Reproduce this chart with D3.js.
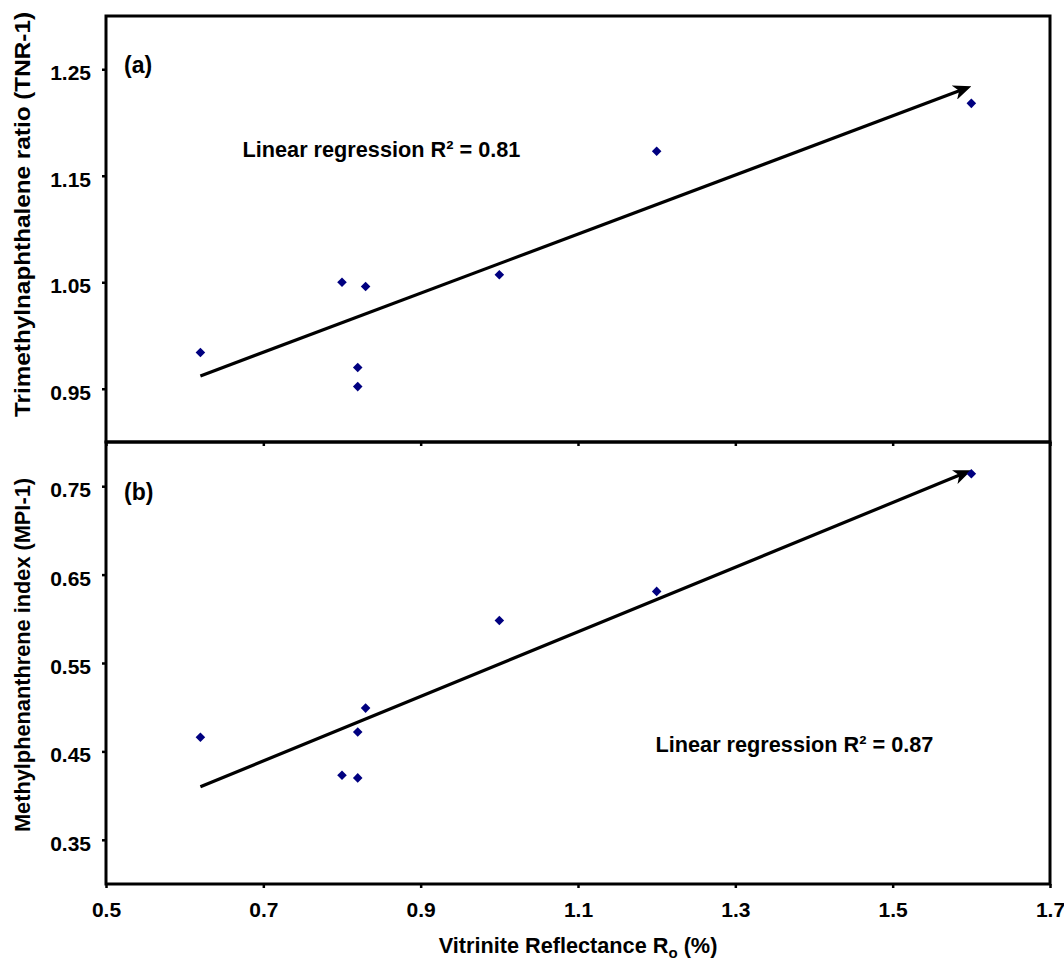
<!DOCTYPE html>
<html><head><meta charset="utf-8">
<script src="https://cdn.jsdelivr.net/npm/d3@7"></script>
<style>
body{margin:0;background:#fff}
svg text{font-family:"Liberation Sans",Arial,sans-serif;font-weight:bold;fill:#000}
</style>
</head><body>
<svg id="chart" width="1064" height="962"></svg>
<script>
// ---- data ----
const vitriniteRo = [0.62, 0.80, 0.83, 0.82, 0.82, 1.00, 1.20, 1.60];
const tnr1        = [0.984, 1.050, 1.046, 0.970, 0.952, 1.057, 1.173, 1.218];
const mpi1        = [0.466, 0.423, 0.499, 0.472, 0.420, 0.598, 0.631, 0.764];
const tnrTrendX = [0.62, 1.60];
const tnrTrendY = [0.962, 1.234];
const mpiTrendX = [0.62, 1.60];
const mpiTrendY = [0.410, 0.768];
const xTicks   = [0.5, 0.7, 0.9, 1.1, 1.3, 1.5, 1.7];
const tnrTicks = [0.95, 1.05, 1.15, 1.25];
const mpiTicks = [0.35, 0.45, 0.55, 0.65, 0.75];
const panelLabels = ["(a)", "(b)"];
const regressionLabels = ["Linear regression R\u00B2 = 0.81", "Linear regression R\u00B2 = 0.87"];
const yTitles = ["Trimethylnaphthalene ratio (TNR-1)", "Methylphenanthrene index (MPI-1)"];

const svg = d3.select("#chart");
const L = 106, R = 1050;
const x = d3.scaleLinear().domain([0.5, 1.7]).range([L, R]);
const yTop = d3.scaleLinear().domain([0.9, 1.3]).range([442, 16]);
const yBot = d3.scaleLinear().domain([0.3, 0.8]).range([884, 442]);

const defs = svg.append("defs");
defs.append("marker").attr("id","arrow")
  .attr("markerUnits","userSpaceOnUse")
  .attr("viewBox","0 0 18 15").attr("refX",18).attr("refY",7.5)
  .attr("markerWidth",18).attr("markerHeight",15).attr("orient","auto")
  .append("path").attr("d","M0,0 L18,7.5 L0,15 L5,7.5 Z").attr("fill","#000");

const diamond = d3.symbol().type(d3.symbolSquare).size(46);

function panel(y, yTicks, yvals, tx, ty, label, reg, regPos, labelY, title, titleY, titleLen, showXLabels) {
  const g = svg.append("g");
  const [y0, y1] = y.range();
  // y axis
  const ya = g.append("g").attr("transform", `translate(${L},0)`)
    .call(d3.axisLeft(y).tickValues(yTicks).tickSize(4).tickPadding(11).tickFormat(d3.format(".2f")));
  ya.select(".domain").remove();
  ya.selectAll("line").attr("stroke","#000").attr("stroke-width",2.5);
  ya.selectAll("text").attr("font-size","21px").attr("dy","0.5em");
  ya.attr("font-family",null);
  // x axis
  const xa = g.append("g").attr("transform", `translate(0,${y0})`)
    .call(d3.axisBottom(x).tickValues(xTicks).tickSize(4).tickPadding(13.7).tickFormat(showXLabels ? d3.format(".1f") : () => ""));
  xa.select(".domain").remove();
  xa.selectAll("line").attr("stroke","#000").attr("stroke-width",2.5);
  xa.selectAll("text").attr("font-size","21px");
  xa.attr("font-family",null);
  // frame
  g.append("rect").attr("x",L).attr("y",y1).attr("width",R-L).attr("height",y0-y1)
    .attr("fill","none").attr("stroke","#000").attr("stroke-width",3);
  // trend arrow (shorten line so it does not poke through the head)
  const p0 = [x(tx[0]), y(ty[0])], p1 = [x(tx[1]), y(ty[1])];
  const dx = p1[0]-p0[0], dy = p1[1]-p0[1], len = Math.hypot(dx, dy);
  const cut = 10;
  g.append("line").attr("x1",p0[0]).attr("y1",p0[1])
    .attr("x2",p1[0]-dx/len*cut).attr("y2",p1[1]-dy/len*cut)
    .attr("stroke","#000").attr("stroke-width",3.2);
  g.append("line").attr("x1",p1[0]-dx/len*(cut+1)).attr("y1",p1[1]-dy/len*(cut+1))
    .attr("x2",p1[0]).attr("y2",p1[1])
    .attr("stroke","none").attr("marker-end","url(#arrow)");
  // points
  g.selectAll("path.pt").data(vitriniteRo.map((v,i)=>[v, yvals[i]])).join("path")
    .attr("class","pt").attr("d", diamond)
    .attr("transform", d => `translate(${x(d[0])},${y(d[1])}) rotate(45)`)
    .attr("fill","#000080");
  // texts
  g.append("text").attr("x",124).attr("y",labelY).attr("font-size","23px").text(label);
  g.append("text").attr("x",regPos[0]).attr("y",regPos[1]).attr("font-size","21.7px").text(reg);
  g.append("text").attr("transform",`translate(30,${titleY}) rotate(-90)`)
    .attr("text-anchor","middle").attr("font-size","21.5px")
    .attr("textLength",titleLen).attr("lengthAdjust","spacingAndGlyphs").text(title);
}

panel(yTop, tnrTicks, tnr1, tnrTrendX, tnrTrendY, panelLabels[0], regressionLabels[0], [242.5,157], 73, yTitles[0], 214.5, 405, false);
panel(yBot, mpiTicks, mpi1, mpiTrendX, mpiTrendY, panelLabels[1], regressionLabels[1], [655.5,752], 500, yTitles[1], 655, 354, true);

// x axis title with subscript
const xt = svg.append("text").attr("x",578).attr("y",953).attr("text-anchor","middle").attr("font-size","21.7px");
xt.append("tspan").text("Vitrinite Reflectance R");
xt.append("tspan").attr("font-size","15px").attr("dy",5).text("o");
xt.append("tspan").attr("dy",-5).text(" (%)");
</script>
</body></html>
